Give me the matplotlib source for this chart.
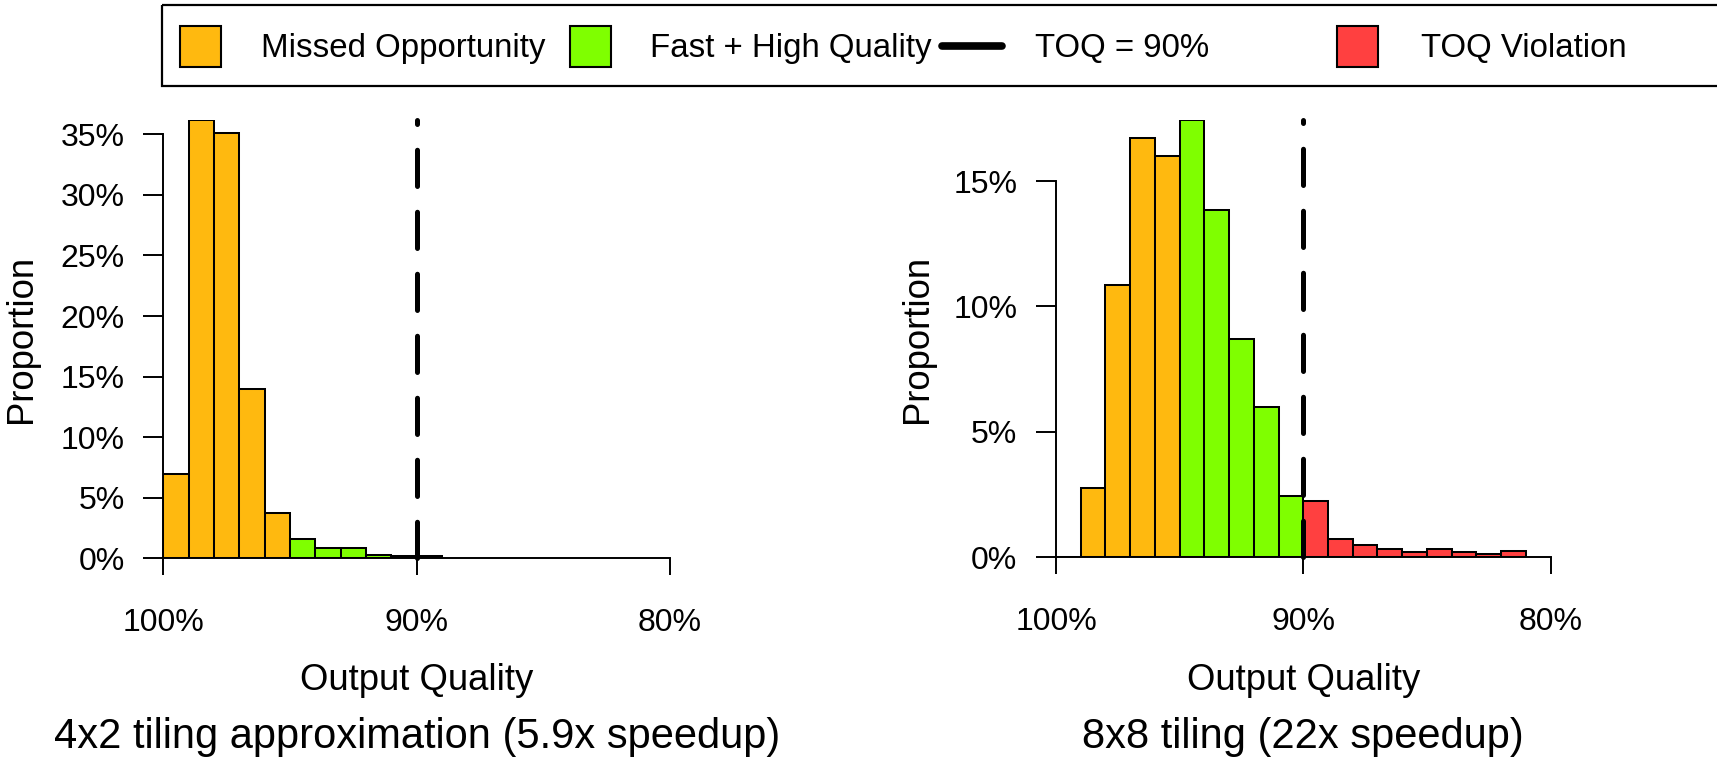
import numpy as np
import matplotlib
matplotlib.use("Agg")
from matplotlib import pyplot as plt
from matplotlib.patches import Rectangle
from matplotlib.lines import Line2D

plt.rcParams["font.family"] = ["Liberation Sans", "DejaVu Sans"]

# histogram bins: 1% wide, starting at 100% output quality and going down
bin_tops = np.arange(100, 80, -1)
left_props = [6.96, 36.2, 35.1, 14.0, 3.7, 1.6, 0.87, 0.87, 0.3, 0.15, 0.15]
right_props = [0, 2.75, 10.86, 16.73, 15.98, 17.44, 13.86, 8.72, 5.99, 2.46,
               2.23, 0.72, 0.48, 0.33, 0.23, 0.32, 0.23, 0.13, 0.24]
left_yticks = [0, 5, 10, 15, 20, 25, 30, 35]
right_yticks = [0, 5, 10, 15]
xticks = [100, 90, 80]
toq = 90
fast_cut = 95
titles = ["4x2 tiling approximation (5.9x speedup)", "8x8 tiling (22x speedup)"]

c_missed = "#FFB90F"
c_fast = "#7FFF00"
c_viol = "#FF4040"
legend_items = [("patch", c_missed, "Missed Opportunity"),
                ("patch", c_fast, "Fast + High Quality"),
                ("line", "black", "TOQ = 90%"),
                ("patch", c_viol, "TOQ Violation")]

W, H = 1717, 758
fig = plt.figure(figsize=(W / 100, H / 100), dpi=100)


def px_axes(x0, x1, ytop, ybot):
    return fig.add_axes([x0 / W, 1 - ybot / H, (x1 - x0) / W, (ybot - ytop) / H])


def bin_color(center):
    if center > fast_cut:
        return c_missed
    if center > toq:
        return c_fast
    return c_viol


def draw_hist(ax, props, yticks):
    tops = bin_tops[:len(props)]
    centers = tops - 0.5
    ax.bar(centers, props, width=1.0, color=[bin_color(c) for c in centers],
           edgecolor="black", linewidth=1.45, zorder=2)
    ymax = max(props)
    ax.plot([toq, toq], [0, ymax], color="black", lw=3.6,
            linestyle=(0, (7.25, 5.15)), dash_capstyle="round", zorder=3,
            clip_on=False)
    ax.set_xlim(100, 80)
    ax.set_ylim(0, ymax)
    ax.set_xticks(xticks)
    ax.set_xticklabels([f"{t}%" for t in xticks])
    ax.set_yticks(yticks)
    ax.set_yticklabels([f"{t}%" for t in yticks])
    for s in ("top", "right"):
        ax.spines[s].set_visible(False)
    ax.spines["left"].set_bounds(0, yticks[-1])
    ax.spines["bottom"].set_bounds(100, 80)
    for s in ("left", "bottom"):
        ax.spines[s].set_linewidth(1.4)
        ax.spines[s].set_zorder(4)
    ax.tick_params(axis="y", length=14.4, width=1.4, pad=13.5, labelsize=23)
    ax.tick_params(axis="x", length=12, width=1.4, pad=24, labelsize=23)
    ax.patch.set_visible(False)


axl = px_axes(163.3, 670, 119.8, 558.3)
axr = px_axes(1056, 1550.6, 119.8, 557.3)
draw_hist(axl, left_props, left_yticks)
draw_hist(axr, right_props, right_yticks)

# overlay in pixel coordinates for legend box and text labels
ov = fig.add_axes([0, 0, 1, 1])
ov.set_xlim(0, W)
ov.set_ylim(H, 0)
ov.axis("off")
ov.set_zorder(-1)

ov.add_patch(Rectangle((162, 5), 1600, 81, facecolor="none",
                       edgecolor="black", lw=1.6, clip_on=False))
item_x = [180, 570, 938, 1337]
text_x = [261, 650, 1035, 1421]
for (kind, col, lab), x, tx in zip(legend_items, item_x, text_x):
    if kind == "patch":
        ov.add_patch(Rectangle((x, 26), 41, 41, facecolor=col,
                               edgecolor="black", lw=1.5))
    else:
        ov.add_line(Line2D([x + 4, x + 64], [46, 46], color=col, lw=5.5,
                           solid_capstyle="round"))
    ov.text(tx, 57, lab, fontsize=23.8, va="baseline", ha="left")

for ax, title, px in zip([axl, axr], titles, [21, 917]):
    bb = ax.get_position()
    cx = (bb.x0 + bb.x1) / 2 * W
    cy = (1 - (bb.y0 + bb.y1) / 2) * H
    ov.text(cx, 690, "Output Quality", fontsize=26.3, ha="center", va="baseline")
    ov.text(cx, 748, title, fontsize=30, ha="center", va="baseline")
    ov.text(px, cy, "Proportion", fontsize=26.3, rotation=90,
            ha="center", va="center")

fig.savefig("out.png", dpi=100)
